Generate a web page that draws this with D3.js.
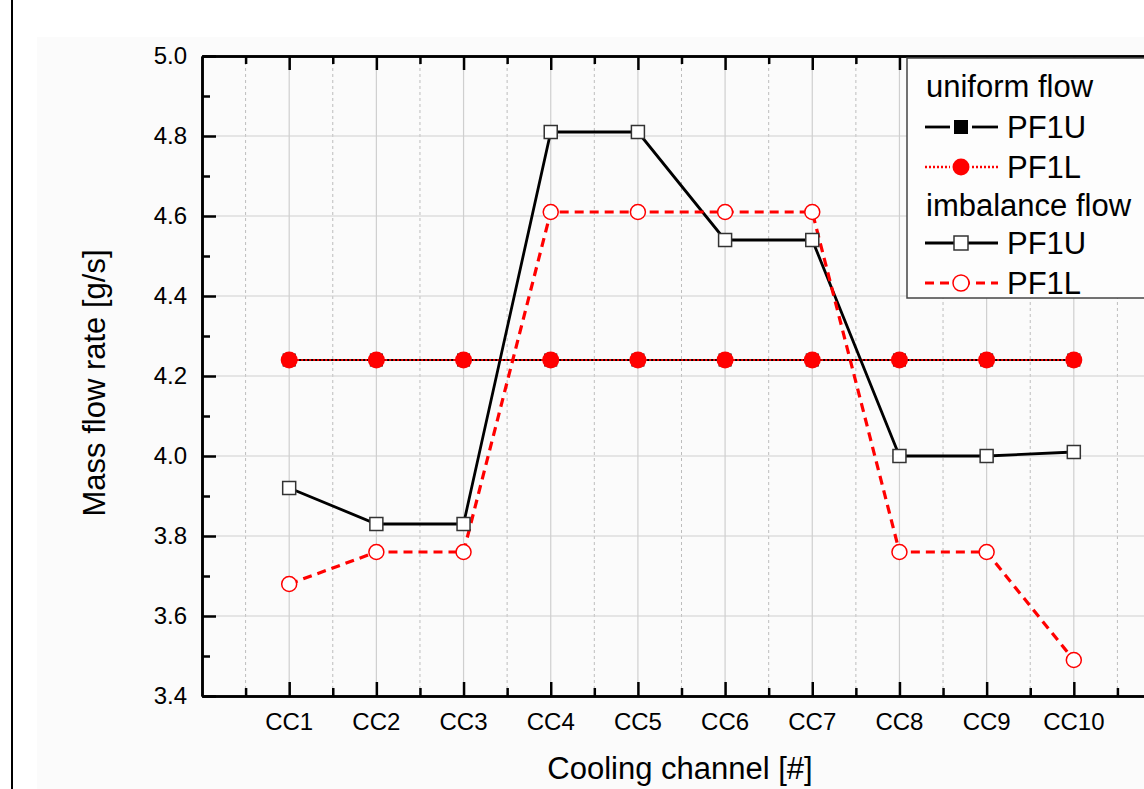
<!DOCTYPE html>
<html>
<head>
<meta charset="utf-8">
<script src="https://cdn.jsdelivr.net/npm/d3@7"></script>
<style>
  html, body { margin: 0; padding: 0; background: #fff; }
  svg { display: block; font-family: Arial, "Liberation Sans", sans-serif; }
  .axis path, .axis line { stroke: #000; stroke-width: 2.5; }
  .axis text { display: none; }
</style>
</head>
<body>
<svg width="1144" height="789"></svg>
<script>
// chart values
var channels = ["CC1", "CC2", "CC3", "CC4", "CC5", "CC6", "CC7", "CC8", "CC9", "CC10"];
var uniformU = [4.24, 4.24, 4.24, 4.24, 4.24, 4.24, 4.24, 4.24, 4.24, 4.24];
var uniformL = [4.24, 4.24, 4.24, 4.24, 4.24, 4.24, 4.24, 4.24, 4.24, 4.24];
var imbalanceU = [3.92, 3.83, 3.83, 4.81, 4.81, 4.54, 4.54, 4.00, 4.00, 4.01];
var imbalanceL = [3.68, 3.76, 3.76, 4.61, 4.61, 4.61, 4.61, 3.76, 3.76, 3.49];
var yTicks = [3.4, 3.6, 3.8, 4.0, 4.2, 4.4, 4.6, 4.8, 5.0];

var svg = d3.select("svg");

var xScale = d3.scaleLinear().domain([0, 11]).range([202, 1161]);
var yScale = d3.scaleLinear().domain([3.4, 5.0]).range([696, 56]);

var majorX = d3.range(1, 12);
var minorX = d3.range(0.5, 11, 1);
var minorY = d3.range(3.5, 5.0, 0.2).map(function (v) { return +v.toFixed(1); });

// page frame and backdrop
svg.append("rect").attr("x", 37).attr("y", 37).attr("width", 1200).attr("height", 800)
  .attr("fill", "#fbfbfb");
svg.append("line").attr("x1", 12).attr("x2", 12).attr("y1", 0).attr("y2", 789)
  .attr("stroke", "#000").attr("stroke-width", 2);

// grid
var grid = svg.append("g");
grid.selectAll(".gx").data(majorX).enter().append("line")
  .attr("x1", function (d) { return xScale(d); }).attr("x2", function (d) { return xScale(d); })
  .attr("y1", yScale(5.0)).attr("y2", yScale(3.4))
  .attr("stroke", "#cfcfcf").attr("stroke-width", 1.2);
grid.selectAll(".gxm").data(minorX).enter().append("line")
  .attr("x1", function (d) { return xScale(d); }).attr("x2", function (d) { return xScale(d); })
  .attr("y1", yScale(5.0)).attr("y2", yScale(3.4))
  .attr("stroke", "#bdbdbd").attr("stroke-width", 1).attr("stroke-dasharray", "3,3");
grid.selectAll(".gy").data(yTicks.slice(1, -1)).enter().append("line")
  .attr("x1", xScale(0)).attr("x2", 1161)
  .attr("y1", function (d) { return yScale(d); }).attr("y2", function (d) { return yScale(d); })
  .attr("stroke", "#cfcfcf").attr("stroke-width", 1.2);

// axes (inward ticks)
svg.append("g").attr("class", "axis").attr("transform", "translate(0,696)")
  .call(d3.axisTop(xScale).tickValues(majorX).tickSize(14).tickSizeOuter(0));
svg.append("g").attr("class", "axis").attr("transform", "translate(0,696)")
  .call(d3.axisTop(xScale).tickValues(minorX).tickSize(8).tickSizeOuter(0));
svg.append("g").attr("class", "axis").attr("transform", "translate(0,56)")
  .call(d3.axisBottom(xScale).tickValues(majorX).tickSize(14).tickSizeOuter(0));
svg.append("g").attr("class", "axis").attr("transform", "translate(0,56)")
  .call(d3.axisBottom(xScale).tickValues(minorX).tickSize(8).tickSizeOuter(0));
svg.append("g").attr("class", "axis").attr("transform", "translate(202,0)")
  .call(d3.axisRight(yScale).tickValues(yTicks).tickSize(14).tickSizeOuter(0));
svg.append("g").attr("class", "axis").attr("transform", "translate(202,0)")
  .call(d3.axisRight(yScale).tickValues(minorY).tickSize(8).tickSizeOuter(0));

// tick labels
svg.selectAll(".ylab").data(yTicks).enter().append("text")
  .attr("x", 187).attr("y", function (d) { return yScale(d) + 8; })
  .attr("text-anchor", "end").attr("font-size", 24)
  .text(function (d) { return d.toFixed(1); });
svg.selectAll(".xlab").data(channels).enter().append("text")
  .attr("x", function (d, i) { return xScale(i + 1); }).attr("y", 730)
  .attr("text-anchor", "middle").attr("font-size", 24)
  .text(function (d) { return d; });

// axis titles
svg.append("text").attr("x", 680).attr("y", 779).attr("text-anchor", "middle")
  .attr("font-size", 31).text("Cooling channel [#]");
svg.append("text").attr("transform", "translate(105,383) rotate(-90)")
  .attr("text-anchor", "middle").attr("font-size", 31).text("Mass flow rate [g/s]");

// series
var line = d3.line()
  .x(function (d, i) { return xScale(i + 1); })
  .y(function (d) { return yScale(d); });

var plot = svg.append("g");

plot.append("path").attr("d", line(uniformU)).attr("fill", "none")
  .attr("stroke", "#000").attr("stroke-width", 2);
plot.append("path").attr("d", line(uniformL)).attr("fill", "none")
  .attr("stroke", "#ff0000").attr("stroke-width", 2).attr("stroke-dasharray", "2,2");
plot.selectAll(".uu").data(uniformU).enter().append("rect")
  .attr("x", function (d, i) { return xScale(i + 1) - 6.5; })
  .attr("y", function (d) { return yScale(d) - 6.5; })
  .attr("width", 13).attr("height", 13).attr("fill", "#000");
plot.selectAll(".ul").data(uniformL).enter().append("circle")
  .attr("cx", function (d, i) { return xScale(i + 1); })
  .attr("cy", function (d) { return yScale(d); })
  .attr("r", 8.5).attr("fill", "#ff0000");

plot.append("path").attr("d", line(imbalanceU)).attr("fill", "none")
  .attr("stroke", "#000").attr("stroke-width", 2.8);
plot.append("path").attr("d", line(imbalanceL)).attr("fill", "none")
  .attr("stroke", "#ff0000").attr("stroke-width", 3.2).attr("stroke-dasharray", "9,6");
plot.selectAll(".iu").data(imbalanceU).enter().append("rect")
  .attr("x", function (d, i) { return xScale(i + 1) - 6.5; })
  .attr("y", function (d) { return yScale(d) - 6.5; })
  .attr("width", 13).attr("height", 13).attr("fill", "#fff")
  .attr("stroke", "#333").attr("stroke-width", 1.5);
plot.selectAll(".il").data(imbalanceL).enter().append("circle")
  .attr("cx", function (d, i) { return xScale(i + 1); })
  .attr("cy", function (d) { return yScale(d); })
  .attr("r", 7.5).attr("fill", "#fff")
  .attr("stroke", "#ff0000").attr("stroke-width", 1.5);

// legend
var lg = svg.append("g");
lg.append("rect").attr("x", 907).attr("y", 58).attr("width", 300).attr("height", 240)
  .attr("fill", "#fdfdfd").attr("stroke", "#444").attr("stroke-width", 1.5);

function legendText(txt, x, y) {
  lg.append("text").attr("x", x).attr("y", y).attr("font-size", 31).text(txt);
}
function legendLine(y, color, width, dash, gap) {
  lg.append("line").attr("x1", 925).attr("x2", 961 - gap).attr("y1", y).attr("y2", y)
    .attr("stroke", color).attr("stroke-width", width).attr("stroke-dasharray", dash);
  lg.append("line").attr("x1", 961 + gap).attr("x2", 998).attr("y1", y).attr("y2", y)
    .attr("stroke", color).attr("stroke-width", width).attr("stroke-dasharray", dash);
}

legendText("uniform flow", 926, 97);
legendLine(127, "#000", 2.8, null, 11);
lg.append("rect").attr("x", 954).attr("y", 120).attr("width", 14).attr("height", 14).attr("fill", "#000");
legendText("PF1U", 1007, 138);
legendLine(167, "#ff0000", 2.5, "2,2", 11);
lg.append("circle").attr("cx", 961).attr("cy", 167).attr("r", 8.5).attr("fill", "#ff0000");
legendText("PF1L", 1007, 178);
legendText("imbalance flow", 926, 216);
legendLine(243, "#000", 3, null, 0);
lg.append("rect").attr("x", 954).attr("y", 236).attr("width", 14).attr("height", 14)
  .attr("fill", "#fff").attr("stroke", "#333").attr("stroke-width", 1.5);
legendText("PF1U", 1007, 254);
legendLine(283, "#ff0000", 3.2, "9,6", 0);
lg.append("circle").attr("cx", 961).attr("cy", 283).attr("r", 8)
  .attr("fill", "#fff").attr("stroke", "#ff0000").attr("stroke-width", 1.5);
legendText("PF1L", 1007, 294);
</script>
</body>
</html>
